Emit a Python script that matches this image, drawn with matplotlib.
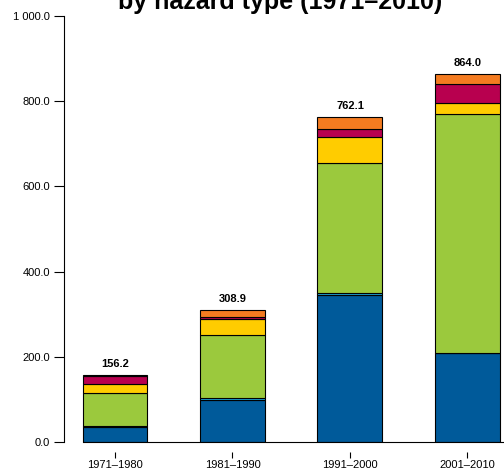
import matplotlib
matplotlib.use("Agg")
import matplotlib.pyplot as plt
import numpy as np

plt.rcParams['font.family'] = ['Liberation Sans', 'DejaVu Sans']

decades = ["1971–1980", "1981–1990", "1991–2000", "2001–2010"]
storms = [36.0, 98.0, 344.0, 208.0]
wildfires = [0.5, 5.0, 6.0, 2.0]
floods = [78.0, 148.0, 306.0, 559.0]
droughts = [22.0, 38.0, 59.0, 26.0]
extreme_temps = [18.7, 5.0, 19.0, 45.0]
other = [1.0, 14.9, 28.1, 24.0]
series = [storms, wildfires, floods, droughts, extreme_temps, other]
colors = ["#005A9A", "#20A8DC", "#9BC93D", "#FFCC00", "#B8004F", "#F47B20"]
yticks = [0, 200, 400, 600, 800, 1000]
ytick_labels = ["0.0", "200.0", "400.0", "600.0", "800.0", "1 000.0"]

fig = plt.figure(figsize=(5.04, 4.71), dpi=100)
ax = fig.add_axes([64/504, 29/471, 440/504, 426/471])

x = np.arange(len(decades))
width = 0.553
xlim = (-0.434, 3.311)
bottom = np.zeros(len(decades))
for vals, c in zip(series, colors):
    ax.bar(x, vals, width, bottom=bottom, color=c, edgecolor="black", linewidth=0.8, zorder=3)
    bottom += np.array(vals)

for xi, tot in zip(x, bottom):
    ax.text(xi, tot + 14, f"{tot:.1f}", ha="center", va="bottom", fontsize=8, fontweight="bold")

for s in ["top", "right"]:
    ax.spines[s].set_visible(False)
ax.spines["left"].set_linewidth(0.8)
ax.spines["bottom"].set_position(("outward", 7))
ax.spines["bottom"].set_visible(False)

ax.set_ylim(0, 1000)
ax.set_xlim(*xlim)
ax.spines["left"].set_bounds(0, 1000)
ax.set_yticks(yticks)
ax.set_yticklabels(ytick_labels)
ax.set_xticks(x)
ax.set_xticklabels(decades)
ax.tick_params(axis="y", length=7, width=0.8, pad=3, labelsize=8)
ax.tick_params(axis="x", length=4.3, width=0.8, pad=1.5, direction="out", labelsize=8)

x0 = (-width/2 - xlim[0]) / (xlim[1] - xlim[0])
ax.axhline(0, xmin=x0, xmax=1, color="black", linewidth=0.8, zorder=4, clip_on=False)

fig.text(280/504, 1 - 9/471, "by hazard type (1971–2010)", ha="center", va="baseline",
         fontsize=18, fontweight="bold")

fig.savefig("out.png", dpi=100)
